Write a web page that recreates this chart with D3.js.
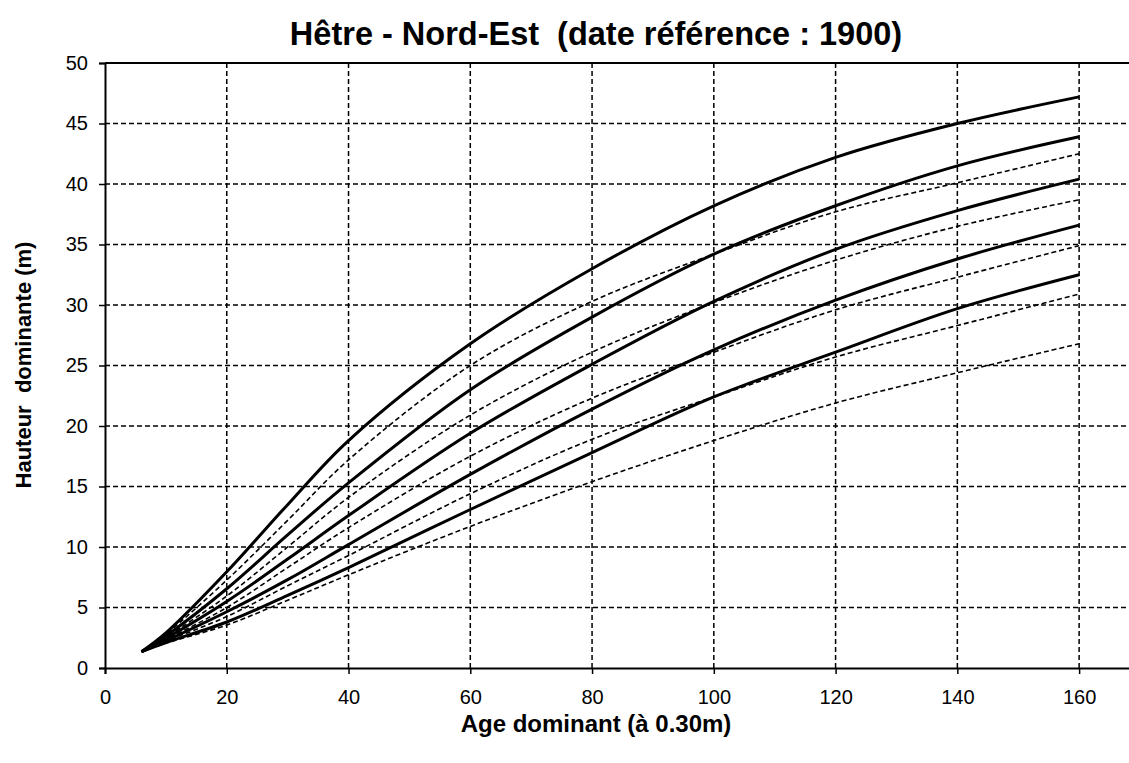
<!DOCTYPE html>
<html>
<head>
<meta charset="utf-8">
<script src="https://cdn.jsdelivr.net/npm/d3@7"></script>
<style>
  body { margin: 0; background: #fff; }
  text { font-family: Arial, "Liberation Sans", sans-serif; fill: #000; }
</style>
</head>
<body>
<div id="chart"></div>
<script>
// ages (x) shared by every curve
var ages = [6, 10, 20, 30, 40, 60, 80, 100, 120, 140, 160];

// solid curves, top to bottom
var solid1 = [1.35, 2.9, 7.95, 13.5, 18.8, 26.8, 33.0, 38.2, 42.2, 45.0, 47.2];
var solid2 = [1.35, 2.65, 6.55, 11.0, 15.3, 23.0, 29.0, 34.2, 38.2, 41.5, 43.9];
var solid3 = [1.35, 2.45, 5.5, 9.0, 12.6, 19.4, 25.1, 30.3, 34.6, 37.8, 40.4];
var solid4 = [1.35, 2.25, 4.65, 7.3, 10.2, 16.0, 21.4, 26.3, 30.4, 33.8, 36.6];
var solid5 = [1.35, 2.1, 3.8, 6.0, 8.3, 13.1, 17.8, 22.4, 26.1, 29.7, 32.5];

// dashed curves, top to bottom
var dash1 = [1.35, 2.8, 7.27, 12.2, 17.2, 25.0, 30.3, 34.2, 37.7, 40.1, 42.5];
var dash2 = [1.35, 2.55, 5.95, 10.0, 14.1, 20.9, 26.1, 30.2, 33.7, 36.5, 38.7];
var dash3 = [1.35, 2.35, 5.0, 8.3, 11.6, 17.5, 22.3, 26.1, 29.6, 32.3, 34.9];
var dash4 = [1.35, 2.2, 4.25, 6.8, 9.3, 14.4, 18.9, 22.4, 25.7, 28.3, 30.9];
var dash5 = [1.35, 2.05, 3.55, 5.6, 7.7, 11.7, 15.4, 18.8, 21.9, 24.4, 26.8];

var xTicks = [0, 20, 40, 60, 80, 100, 120, 140, 160];
var yTicks = [0, 5, 10, 15, 20, 25, 30, 35, 40, 45, 50];

var titleText = "Hêtre - Nord-Est  (date référence : 1900)";
var xTitle = "Age dominant (à 0.30m)";
var yTitle = "Hauteur  dominante (m)";

var W = 1129, H = 763;
var pLeft = 105, pTop = 63, pBottom = 668;
var pRight = 1140; // frame runs past the picture edge

var svg = d3.select('#chart').append('svg')
    .attr('width', W).attr('height', H);

var x = d3.scaleLinear().domain([0, 170]).range([pLeft, pRight]);
var y = d3.scaleLinear().domain([0, 50]).range([pBottom, pTop]);

// grid
svg.append('g').selectAll('line').data(yTicks.slice(1)).enter()
    .append('line')
    .attr('x1', pLeft).attr('x2', pRight)
    .attr('y1', function(d){ return y(d); }).attr('y2', function(d){ return y(d); })
    .attr('stroke', '#000').attr('stroke-width', 1.5).attr('stroke-dasharray', '5,3');

svg.append('g').selectAll('line').data(xTicks.slice(1)).enter()
    .append('line')
    .attr('y1', pTop).attr('y2', pBottom)
    .attr('x1', function(d){ return x(d); }).attr('x2', function(d){ return x(d); })
    .attr('stroke', '#000').attr('stroke-width', 1.5).attr('stroke-dasharray', '5,3');

// top border
svg.append('line')
    .attr('x1', pLeft).attr('x2', pRight).attr('y1', pTop).attr('y2', pTop)
    .attr('stroke', '#000').attr('stroke-width', 2);

// axes
var xAxis = d3.axisBottom(x).tickValues(xTicks).tickSize(6).tickPadding(16);
var yAxis = d3.axisLeft(y).tickValues(yTicks).tickSize(6).tickPadding(11);

var gx = svg.append('g').attr('transform', 'translate(0,' + pBottom + ')').call(xAxis);
var gy = svg.append('g').attr('transform', 'translate(' + pLeft + ',0)').call(yAxis);

[gx, gy].forEach(function(g){
  g.select('.domain').attr('stroke', '#000').attr('stroke-width', 2);
  g.selectAll('.tick line').attr('stroke', '#000').attr('stroke-width', 1.5);
  g.selectAll('.tick text').attr('font-size', 20).attr('font-family', 'Arial, "Liberation Sans", sans-serif').attr('fill', '#000');
});

// curves
var line = d3.line()
    .x(function(d){ return x(d[0]); })
    .y(function(d){ return y(d[1]); })
    .curve(d3.curveCatmullRom.alpha(0.5));

function pts(vals){ return ages.map(function(a, i){ return [a, vals[i]]; }); }

var dashed = [dash1, dash2, dash3, dash4, dash5];
var solid = [solid1, solid2, solid3, solid4, solid5];

svg.append('g').selectAll('path').data(dashed).enter()
    .append('path')
    .attr('d', function(d){ return line(pts(d)); })
    .attr('fill', 'none').attr('stroke', '#000').attr('stroke-width', 1.6)
    .attr('stroke-dasharray', '5,3');

svg.append('g').selectAll('path').data(solid).enter()
    .append('path')
    .attr('d', function(d){ return line(pts(d)); })
    .attr('fill', 'none').attr('stroke', '#000').attr('stroke-width', 3)
    .attr('stroke-linejoin', 'round');

// titles
svg.append('text')
    .attr('x', 596).attr('y', 45)
    .attr('text-anchor', 'middle')
    .attr('font-size', 32.5).attr('font-weight', 'bold')
    .style('white-space', 'pre')
    .text(titleText);

svg.append('text')
    .attr('x', 596).attr('y', 732)
    .attr('text-anchor', 'middle')
    .attr('font-size', 24).attr('font-weight', 'bold')
    .text(xTitle);

svg.append('text')
    .attr('transform', 'translate(31,365) rotate(-90)')
    .attr('text-anchor', 'middle')
    .attr('font-size', 22).attr('font-weight', 'bold')
    .style('white-space', 'pre')
    .text(yTitle);
</script>
</body>
</html>
